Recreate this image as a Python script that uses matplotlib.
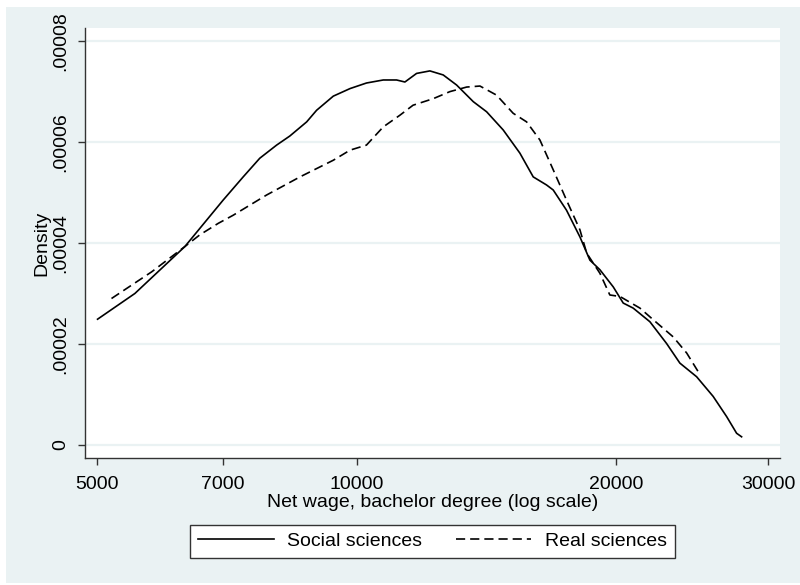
import numpy as np
import matplotlib.pyplot as plt
from matplotlib.patches import Rectangle
from matplotlib.ticker import NullLocator

plt.rcParams['font.family'] = ['Liberation Sans', 'DejaVu Sans']

# kernel density, social sciences
social_x = [5005, 5530, 6320, 7000, 7385, 7720, 8075, 8365, 8750, 8985, 9395,
            9825, 10265, 10735, 11125, 11375, 11735, 12160, 12600, 13060,
            13655, 14150, 14790, 15465, 16025, 16605, 16905, 17515, 18155,
            18645, 19150, 19845, 20380, 20930, 21885, 22880, 23710, 24795,
            25915, 26865, 27590, 27960]
social_y = [2.49e-5, 3.00e-5, 3.93e-5, 4.85e-5, 5.31e-5, 5.68e-5, 5.94e-5,
            6.12e-5, 6.40e-5, 6.63e-5, 6.91e-5, 7.06e-5, 7.17e-5, 7.23e-5,
            7.23e-5, 7.19e-5, 7.36e-5, 7.41e-5, 7.33e-5, 7.13e-5, 6.80e-5,
            6.60e-5, 6.24e-5, 5.78e-5, 5.31e-5, 5.15e-5, 5.05e-5, 4.65e-5,
            4.12e-5, 3.66e-5, 3.47e-5, 3.13e-5, 2.81e-5, 2.71e-5, 2.44e-5,
            2.01e-5, 1.62e-5, 1.35e-5, 0.96e-5, 0.56e-5, 0.23e-5, 0.16e-5]

# kernel density, real sciences
real_x = [5195, 5785, 6320, 6575, 6910, 7190, 7860, 8595, 9395, 9825, 10265,
          10735, 11220, 11625, 12270, 12830, 13415, 13900, 14530, 15190,
          15745, 16315, 16905, 17515, 18155, 18485, 19150, 19665, 20205,
          21310, 22080, 23290, 24145, 24900]
real_y = [2.90e-5, 3.43e-5, 3.93e-5, 4.16e-5, 4.39e-5, 4.55e-5, 4.95e-5,
          5.31e-5, 5.64e-5, 5.84e-5, 5.94e-5, 6.30e-5, 6.53e-5, 6.73e-5,
          6.86e-5, 7.00e-5, 7.09e-5, 7.11e-5, 6.93e-5, 6.57e-5, 6.40e-5,
          6.04e-5, 5.45e-5, 4.85e-5, 4.26e-5, 3.80e-5, 3.40e-5, 2.97e-5,
          2.94e-5, 2.71e-5, 2.48e-5, 2.14e-5, 1.82e-5, 1.45e-5]

xticks = [5000, 7000, 10000, 20000, 30000]
yticks = [0, 0.00002, 0.00004, 0.00006, 0.00008]
ylabels = ['0', '.00002', '.00004', '.00006', '.00008']

bg = '#EAF2F3'
axcol = '#333333'

fig = plt.figure(figsize=(8, 5.85), dpi=100, facecolor='white')
fig.patches.append(Rectangle((6/800, 2/585), 1, 576/585, transform=fig.transFigure,
                             facecolor=bg, edgecolor='none', zorder=-10))

ax = fig.add_axes([85/800, 127/585, 695/800, 430/585])
ax.set_facecolor('white')

ax.plot(social_x, social_y, color='black', lw=1.2, label='Social sciences')
ax.plot(real_x, real_y, color='black', lw=1.2, ls=(0, (5.5, 3)),
        label='Real sciences')

ax.set_xscale('log')
ax.set_xlim(4840, 30980)
ax.set_ylim(-0.0000026, 0.0000826)
ax.set_xticks(xticks)
ax.set_xticklabels([str(v) for v in xticks])
ax.xaxis.set_minor_locator(NullLocator())
ax.set_yticks(yticks)
ax.set_yticklabels(ylabels, rotation=90, va='center')

for y in yticks:
    ax.axhline(y, color=bg, lw=1.6, zorder=0)

for s in ['top', 'right']:
    ax.spines[s].set_visible(False)
for s in ['left', 'bottom']:
    ax.spines[s].set_color(axcol)
    ax.spines[s].set_linewidth(1.0)

ax.tick_params(axis='both', colors=axcol, labelcolor='black', labelsize=14,
               length=5, width=1.0, direction='out')
ax.tick_params(axis='x', pad=8)
ax.tick_params(axis='y', pad=6)

ax.set_xlabel('Net wage, bachelor degree (log scale)', fontsize=14, labelpad=1)
ax.set_ylabel('Density', fontsize=14, labelpad=2)

fig.legend(loc='center', bbox_to_anchor=(0.5406, 0.0744), ncol=2, fontsize=14,
           frameon=True, fancybox=False, edgecolor=axcol, framealpha=1,
           handlelength=3.9, handletextpad=0.7, columnspacing=1.7,
           borderpad=0.4)

fig.savefig('out.png', dpi=100, facecolor=fig.get_facecolor())
